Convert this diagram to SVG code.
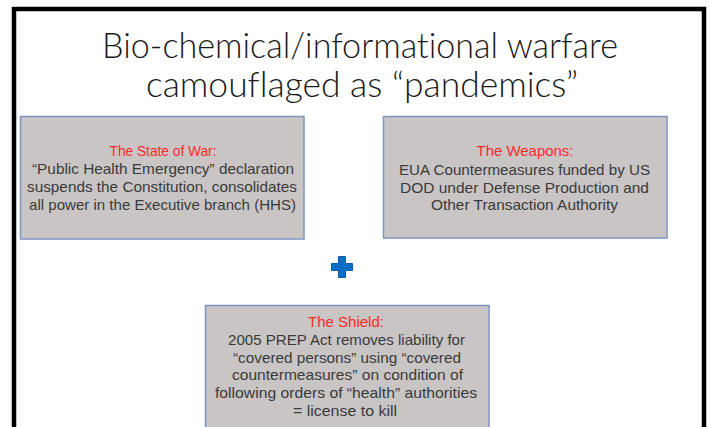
<svg xmlns="http://www.w3.org/2000/svg" width="710" height="427" viewBox="0 0 710 427">
<style>
.title{font-family:"Lato","Liberation Sans",sans-serif;font-weight:300;font-size:35px;fill:#1a1a1a;text-anchor:middle;font-variant-ligatures:none}
.box{fill:#c9c5c5;stroke:#8094c0;stroke-width:1.5}
.t{font-family:"Liberation Sans","DejaVu Sans",sans-serif;font-size:15px;fill:#3a3a3a;text-anchor:middle}
.h{fill:#ff2a2a}
</style>
<rect x="0" y="0" width="710" height="427" fill="#ffffff"/>
<path d="M14 440 V9 H704 V440" fill="none" stroke="#000" stroke-width="4.5"/>
<g id="title">
<text class="title" x="360" y="58" textLength="516" lengthAdjust="spacingAndGlyphs">Bio-chemical/informational warfare</text>
<text class="title" x="362" y="97" textLength="432" lengthAdjust="spacingAndGlyphs">camouflaged as “pandemics”</text>
</g>
<g id="state-of-war">
<rect class="box" x="20.5" y="116.5" width="283.5" height="122.5"/>
<text class="t h" x="163" y="156" textLength="107" lengthAdjust="spacingAndGlyphs">The State of War:</text>
<text class="t" x="163" y="174" textLength="262" lengthAdjust="spacingAndGlyphs">“Public Health Emergency” declaration</text>
<text class="t" x="162" y="192" textLength="270" lengthAdjust="spacingAndGlyphs">suspends the Constitution, consolidates</text>
<text class="t" x="162.5" y="210" textLength="267" lengthAdjust="spacingAndGlyphs">all power in the Executive branch (HHS)</text>
</g>
<g id="weapons">
<rect class="box" x="383.5" y="116.5" width="283.5" height="121.5"/>
<text class="t h" x="525" y="156" textLength="97" lengthAdjust="spacingAndGlyphs">The Weapons:</text>
<text class="t" x="524.5" y="175" textLength="251" lengthAdjust="spacingAndGlyphs">EUA Countermeasures funded by US</text>
<text class="t" x="524.5" y="193" textLength="249" lengthAdjust="spacingAndGlyphs">DOD under Defense Production and</text>
<text class="t" x="524.5" y="210" textLength="187" lengthAdjust="spacingAndGlyphs">Other Transaction Authority</text>
</g>
<g id="plus">
<path d="M338.5 256.5 h7 v7 h7 v7 h-7 v7 h-7 v-7 h-7 v-7 h7 z" fill="#0a6fc4" stroke="#0a5aa8" stroke-width="1"/>
</g>
<g id="shield">
<rect class="box" x="205.5" y="305.5" width="283.5" height="130"/>
<text class="t h" x="346" y="327" textLength="76" lengthAdjust="spacingAndGlyphs">The Shield:</text>
<text class="t" x="346.5" y="345" textLength="237" lengthAdjust="spacingAndGlyphs">2005 PREP Act removes liability for</text>
<text class="t" x="347" y="363" textLength="228" lengthAdjust="spacingAndGlyphs">“covered persons” using “covered</text>
<text class="t" x="347.5" y="380" textLength="231" lengthAdjust="spacingAndGlyphs">countermeasures” on condition of</text>
<text class="t" x="346" y="398" textLength="262" lengthAdjust="spacingAndGlyphs">following orders of “health” authorities</text>
<text class="t" x="345" y="416" textLength="104" lengthAdjust="spacingAndGlyphs">= license to kill</text>
</g>
<g id="connectors"/>
</svg>
